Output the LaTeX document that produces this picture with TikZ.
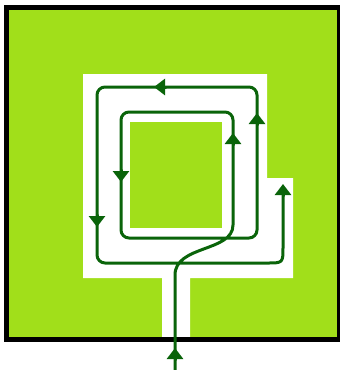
\documentclass[tikz,border=0pt]{standalone}
\usetikzlibrary{arrows.meta}
\definecolor{lime}{RGB}{161,223,26}
\definecolor{flowgreen}{RGB}{10,100,10}
\tikzset{
  flow/.style={draw=flowgreen, line width=3pt, line cap=round, line join=round},
  tipmark/.style={flow, -{Triangle[width=16pt,length=11pt]}},
  frame/.style={draw=black, line width=5pt},
}
\begin{document}
\begin{tikzpicture}[x=1pt,y=-1pt]
\useasboundingbox (0,0) rectangle (340,370);
% outer green square
\fill[lime] (6,7) rectangle (339,339);
% white channel
\fill[white] (83,74) -- (267,74) -- (267,178) -- (293,178) -- (293,278) -- (190,278) -- (190,339) -- (162,339) -- (162,278) -- (83,278) -- cycle;
% inner green square
\fill[lime] (130,122) rectangle (222,228);
% frame
\draw[frame] (6,7) rectangle (339,339);
% main flow path
\draw[flow] (175,372) -- (175,275)
  .. controls (175,245) and (233,252) .. (233,225)
  [rounded corners=8pt] -- (233,112) -- (121,112) -- (121,238) -- (257,238) -- (257,87) -- (97,87) -- (97,263)
  [rounded corners=0pt] -- (267,263) .. controls (283,263) .. (283,247) -- (283,192);
% arrowheads
\draw[tipmark] (175,360) -- (175,348);
\draw[tipmark] (233,145) -- (233,133);
\draw[tipmark] (257,125) -- (257,113);
\draw[tipmark] (166,87) -- (154,87);
\draw[tipmark] (121,170) -- (121,182);
\draw[tipmark] (97,215) -- (97,227);
\draw[tipmark] (283,196) -- (283,184);
\end{tikzpicture}
\end{document}
